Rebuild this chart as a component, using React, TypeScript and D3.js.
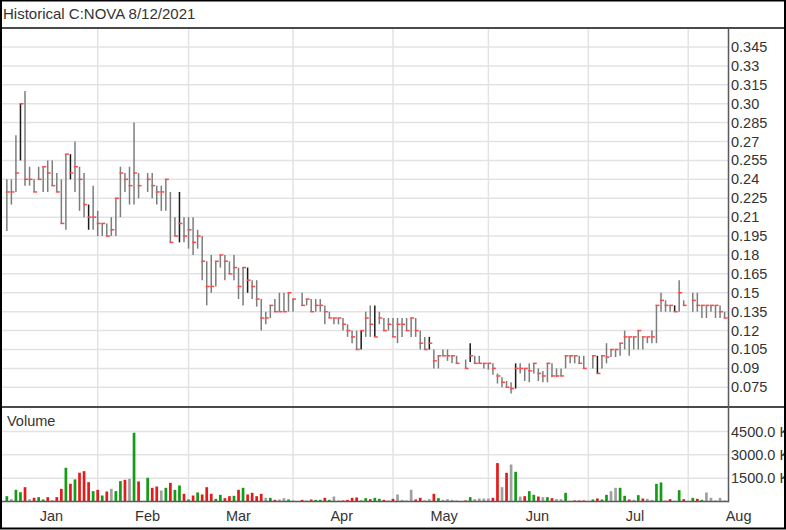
import React, { useEffect, useRef } from 'react';
import * as d3 from 'd3';

const title = 'Historical C:NOVA 8/12/2021';
const firstDay = '2021-01-04';
const lastDay = '2021-08-12';
const holidays = ['2021-02-15', '2021-04-02', '2021-05-24', '2021-07-01', '2021-08-02'];

const monthLabels = ['Jan', 'Feb', 'Mar', 'Apr', 'May', 'Jun', 'Jul', 'Aug'];
const monthLabelDays = ['2021-01-15', '2021-02-15', '2021-03-15', '2021-04-15', '2021-05-17', '2021-06-15', '2021-07-15', '2021-08-16'];
const monthStarts = ['2021-02-01', '2021-03-01', '2021-04-01', '2021-05-03', '2021-06-01', '2021-07-01', '2021-08-02'];

const priceTicks = ['0.075', '0.09', '0.105', '0.12', '0.135', '0.15', '0.165', '0.18', '0.195', '0.21', '0.225', '0.24', '0.255', '0.27', '0.285', '0.30', '0.315', '0.33', '0.345'];
const volumeTicks = [1500, 3000, 4500];

// one entry per trading day, grouped by month
const high = [
  0.240, 0.240, 0.275, 0.300, 0.310, 0.250, 0.240, 0.250, 0.250, 0.255, 0.255, 0.245, 0.240, 0.260, 0.260, 0.270, 0.250, 0.245, 0.220, 0.235,
  0.215, 0.205, 0.205, 0.210, 0.225, 0.250, 0.245, 0.250, 0.285, 0.245, 0.245, 0.245, 0.235, 0.235, 0.240, 0.230, 0.210, 0.230, 0.210,
  0.210, 0.210, 0.200, 0.195, 0.175, 0.180, 0.175, 0.180, 0.180, 0.175, 0.180, 0.170, 0.170, 0.170, 0.160, 0.160, 0.145, 0.135, 0.140, 0.145, 0.150, 0.150, 0.150,
  0.145, 0.150, 0.145, 0.145, 0.145, 0.145, 0.140, 0.135, 0.130, 0.130, 0.130, 0.125, 0.120, 0.120, 0.120, 0.135, 0.140, 0.140, 0.135, 0.130, 0.130,
  0.130, 0.130, 0.130, 0.130, 0.130, 0.130, 0.120, 0.115, 0.115, 0.105, 0.100, 0.105, 0.105, 0.100, 0.100, 0.097, 0.110, 0.100, 0.100, 0.094,
  0.094, 0.094, 0.086, 0.083, 0.080, 0.079, 0.094, 0.094, 0.090, 0.094, 0.094, 0.090, 0.088, 0.094, 0.094, 0.090, 0.090, 0.100, 0.100, 0.100, 0.100, 0.100,
  0.100, 0.100, 0.100, 0.110, 0.105, 0.105, 0.110, 0.120, 0.115, 0.115, 0.120, 0.115, 0.115, 0.120, 0.140, 0.150, 0.144, 0.140, 0.140, 0.160, 0.144,
  0.150, 0.150, 0.140, 0.140, 0.140, 0.140, 0.140, 0.135,
];
const low = [
  0.199, 0.220, 0.230, 0.255, 0.235, 0.235, 0.230, 0.240, 0.230, 0.230, 0.235, 0.230, 0.205, 0.200, 0.240, 0.230, 0.215, 0.210, 0.200, 0.200,
  0.195, 0.195, 0.195, 0.195, 0.195, 0.210, 0.230, 0.220, 0.220, 0.225, 0.230, 0.225, 0.220, 0.215, 0.215, 0.190, 0.195, 0.190, 0.190,
  0.185, 0.180, 0.185, 0.160, 0.140, 0.150, 0.155, 0.170, 0.160, 0.165, 0.160, 0.145, 0.140, 0.150, 0.145, 0.139, 0.120, 0.125, 0.130, 0.135, 0.135, 0.135, 0.135,
  0.135, 0.140, 0.140, 0.135, 0.135, 0.135, 0.125, 0.130, 0.125, 0.125, 0.120, 0.115, 0.110, 0.105, 0.105, 0.115, 0.115, 0.115, 0.125, 0.120, 0.120,
  0.115, 0.110, 0.115, 0.120, 0.115, 0.115, 0.105, 0.105, 0.105, 0.090, 0.090, 0.100, 0.096, 0.094, 0.094, 0.090, 0.095, 0.094, 0.094, 0.090,
  0.089, 0.085, 0.078, 0.075, 0.075, 0.070, 0.074, 0.086, 0.080, 0.079, 0.086, 0.080, 0.079, 0.079, 0.083, 0.083, 0.084, 0.090, 0.094, 0.094, 0.094, 0.090,
  0.090, 0.086, 0.090, 0.094, 0.099, 0.099, 0.100, 0.105, 0.100, 0.105, 0.105, 0.105, 0.110, 0.110, 0.110, 0.135, 0.135, 0.135, 0.135, 0.135, 0.140,
  0.135, 0.135, 0.130, 0.130, 0.135, 0.130, 0.130, 0.130,
];
const close = [
  0.230, 0.230, 0.245, 0.300, 0.240, 0.240, 0.230, 0.240, 0.250, 0.245, 0.235, 0.230, 0.205, 0.260, 0.245, 0.250, 0.240, 0.220, 0.210, 0.210,
  0.205, 0.205, 0.195, 0.200, 0.225, 0.245, 0.240, 0.235, 0.245, 0.235, 0.240, 0.235, 0.230, 0.230, 0.240, 0.190, 0.195, 0.205, 0.195,
  0.200, 0.190, 0.195, 0.175, 0.155, 0.155, 0.175, 0.180, 0.175, 0.165, 0.170, 0.155, 0.170, 0.160, 0.155, 0.145, 0.130, 0.130, 0.140, 0.135, 0.135, 0.135, 0.150,
  0.145, 0.140, 0.145, 0.135, 0.140, 0.140, 0.135, 0.130, 0.130, 0.130, 0.125, 0.120, 0.115, 0.105, 0.120, 0.130, 0.125, 0.115, 0.130, 0.120, 0.125,
  0.115, 0.125, 0.125, 0.120, 0.130, 0.120, 0.110, 0.105, 0.110, 0.096, 0.100, 0.100, 0.100, 0.100, 0.094, 0.090, 0.100, 0.094, 0.094, 0.094,
  0.094, 0.090, 0.084, 0.079, 0.075, 0.074, 0.090, 0.090, 0.090, 0.088, 0.094, 0.086, 0.084, 0.094, 0.084, 0.084, 0.084, 0.100, 0.100, 0.100, 0.094, 0.090,
  0.100, 0.086, 0.100, 0.099, 0.105, 0.105, 0.110, 0.115, 0.115, 0.115, 0.120, 0.115, 0.115, 0.115, 0.140, 0.144, 0.140, 0.140, 0.135, 0.150, 0.140,
  0.144, 0.140, 0.140, 0.140, 0.140, 0.140, 0.135, 0.130,
];
// volume in thousands of shares
const volume = [
  343, 150, 750, 600, 920, 150, 240, 280, 130, 280, 60, 280, 815, 2170, 1140, 1420, 1850, 1950, 1245, 665,
  750, 385, 645, 815, 665, 1310, 1395, 1460, 4420, 1290, 1525, 880, 965, 710, 880, 1200, 750, 1030, 495,
  130, 385, 580, 450, 920, 495, 170, 430, 215, 343, 365, 750, 880, 450, 560, 343, 494, 235, 235, 107, 130, 215, 130,
  65, 107, 65, 130, 107, 107, 236, 107, 320, 65, 65, 107, 236, 258, 65, 215, 150, 236, 172, 107, 65,
  172, 450, 107, 65, 750, 130, 236, 65, 150, 494, 215, 107, 150, 107, 65, 65, 280, 150, 193, 193,
  193, 236, 2470, 923, 1845, 2380, 1910, 320, 343, 665, 430, 320, 280, 280, 215, 150, 150, 558, 43, 65, 65, 65,
  130, 193, 130, 430, 665, 880, 880, 365, 130, 107, 408, 193, 172, 107, 1137, 1225, 65, 150, 43, 730, 150,
  236, 172, 107, 580, 236, 65, 236, 65,
];
// g = up, r = down, n = unchanged
const volumeDir = [
  'g', 'n', 'g', 'g', 'r', 'n', 'r', 'g', 'g', 'r', 'r', 'r', 'r', 'g', 'r', 'g', 'r', 'r', 'r', 'g',
  'r', 'g', 'r', 'n', 'g', 'g', 'r', 'n', 'g', 'r', 'g', 'r', 'r', 'n', 'g', 'r', 'g', 'g', 'r',
  'g', 'r', 'g', 'r', 'r', 'r', 'g', 'g', 'r', 'r', 'g', 'r', 'g', 'r', 'r', 'r', 'r', 'n', 'g', 'r', 'n', 'n', 'g',
  'n', 'r', 'n', 'r', 'g', 'g', 'r', 'g', 'n', 'n', 'r', 'r', 'r', 'r', 'g', 'g', 'r', 'g', 'g', 'r', 'n',
  'r', 'n', 'n', 'n', 'n', 'r', 'r', 'n', 'n', 'r', 'g', 'n', 'n', 'n', 'n', 'r', 'g', 'n', 'n', 'n',
  'n', 'r', 'r', 'n', 'r', 'n', 'g', 'n', 'r', 'g', 'g', 'r', 'n', 'g', 'r', 'n', 'n', 'g', 'n', 'r', 'r', 'r',
  'g', 'r', 'g', 'g', 'n', 'n', 'g', 'g', 'r', 'n', 'g', 'r', 'n', 'n', 'g', 'g', 'n', 'r', 'n', 'g', 'r',
  'g', 'r', 'g', 'n', 'n', 'n', 'n', 'n',
];
const darkBars = ['2021-01-07', '2021-01-22', '2021-01-28', '2021-02-25', '2021-03-18', '2021-04-22', '2021-04-27', '2021-05-13', '2021-05-26', '2021-06-09', '2021-07-05', '2021-07-28'];

const W = 786;
const H = 530;
const plotLeft = 2;
const plotRight = 728.5;
const priceTop = 29;
const divider = 407;
const volBase = 501.5;
const font = '"Liberation Sans", Arial, sans-serif';
const dirColor: Record<string, string> = { g: '#149c14', r: '#e41b1b', n: '#a0a0a0' };

export default function App() {
  const svgRef = useRef<SVGSVGElement>(null);

  useEffect(() => {
    if (!svgRef.current) return;
    const svg = d3.select(svgRef.current);
    svg.selectAll('*').remove();

    const parse = d3.timeParse('%Y-%m-%d');
    const fmt = d3.timeFormat('%Y-%m-%d');
    const start = parse(firstDay)!;
    const isWeekday = (d: Date) => d.getDay() % 6 !== 0;
    const weekdayIndex = (s: string) => d3.timeDay.range(start, parse(s)!).filter(isWeekday).length;

    const weekdays = d3.timeDay.range(start, d3.timeDay.offset(parse(lastDay)!, 1)).filter(isWeekday).map(fmt);
    const tradingDays = weekdays.filter(s => !holidays.includes(s));
    const dayIdx = new Map(weekdays.map((s, i) => [s, i]));

    const x = d3.scaleLinear().domain([0, weekdays.length - 1]).range([6.84, 724.6]);
    const y = d3.scaleLinear().domain([0.075, 0.345]).range([387.3, 47]);
    const yv = d3.scaleLinear().domain([0, 4500]).range([volBase, 431.5]);

    const bars = tradingDays.map((d, i) => ({
      date: d,
      x: x(dayIdx.get(d)!),
      high: high[i],
      low: low[i],
      close: close[i],
      volume: volume[i],
      dir: volumeDir[i],
    }));

    svg.append('rect').attr('width', W).attr('height', H).attr('fill', '#fff');

    // grid
    const grid = svg.append('g').attr('stroke', '#e3e3e3').attr('stroke-width', 1.5);
    grid.selectAll('line.h')
      .data(priceTicks)
      .join('line')
      .attr('x1', plotLeft).attr('x2', plotRight)
      .attr('y1', d => y(+d)).attr('y2', d => y(+d));
    grid.selectAll('line.vh')
      .data(volumeTicks)
      .join('line')
      .attr('class', 'vh')
      .attr('x1', plotLeft).attr('x2', plotRight)
      .attr('y1', d => yv(d)).attr('y2', d => yv(d));
    grid.selectAll('line.m')
      .data(monthStarts)
      .join('line')
      .attr('class', 'm')
      .attr('x1', d => x(weekdayIndex(d))).attr('x2', d => x(weekdayIndex(d)))
      .attr('y1', priceTop).attr('y2', volBase);

    // OHLC bars
    const dark = new Set(darkBars);
    svg.append('g')
      .selectAll('line')
      .data(bars)
      .join('line')
      .attr('x1', d => d.x).attr('x2', d => d.x)
      .attr('y1', d => y(d.high)).attr('y2', d => y(d.low))
      .attr('stroke', d => (dark.has(d.date) ? '#1a1a1a' : '#7d7d7d'))
      .attr('stroke-width', 1.5);

    svg.append('g')
      .selectAll('line')
      .data(bars)
      .join('line')
      .attr('x1', d => d.x - 1).attr('x2', d => d.x + 3)
      .attr('y1', d => y(d.close)).attr('y2', d => y(d.close))
      .attr('stroke', '#ff4a4a')
      .attr('stroke-width', 1.5);

    // volume bars
    svg.append('g')
      .selectAll('rect')
      .data(bars)
      .join('rect')
      .attr('x', d => d.x - 1.35)
      .attr('width', 2.7)
      .attr('y', d => yv(d.volume))
      .attr('height', d => volBase - yv(d.volume))
      .attr('fill', d => dirColor[d.dir]);

    // frame lines
    const frame = svg.append('g').attr('stroke', '#4a4a4a');
    frame.append('line').attr('x1', 0).attr('x2', W).attr('y1', 28).attr('y2', 28).attr('stroke-width', 2);
    frame.append('line').attr('x1', 0).attr('x2', W).attr('y1', divider).attr('y2', divider).attr('stroke-width', 2);
    frame.append('line').attr('x1', plotRight).attr('x2', plotRight).attr('y1', priceTop).attr('y2', volBase + 0.75).attr('stroke-width', 1.5).attr('stroke', '#5a5a5a');
    frame.append('line').attr('x1', plotLeft).attr('x2', plotRight).attr('y1', volBase).attr('y2', volBase).attr('stroke-width', 1.5).attr('stroke', '#5a5a5a');

    // text
    const txt = svg.append('g').attr('font-family', font).attr('fill', '#333');
    txt.append('text').attr('x', 3).attr('y', 19).attr('font-size', 15).text(title);
    txt.append('text').attr('x', 7).attr('y', 426).attr('font-size', 14.5).text('Volume');

    txt.selectAll('text.p')
      .data(priceTicks)
      .join('text')
      .attr('class', 'p')
      .attr('x', 731).attr('y', d => y(+d) + 5)
      .attr('font-size', 14.5)
      .text(d => d);

    txt.selectAll('text.v')
      .data(volumeTicks)
      .join('text')
      .attr('class', 'v')
      .attr('x', 731).attr('y', d => yv(d) + 5)
      .attr('font-size', 14.5)
      .text(d => `${d.toFixed(1)} K`);

    txt.selectAll('text.mo')
      .data(monthLabels)
      .join('text')
      .attr('class', 'mo')
      .attr('x', (d, i) => x(weekdayIndex(monthLabelDays[i])) - 8)
      .attr('y', 520.5)
      .attr('font-size', 14.5)
      .text(d => d);

    // outer border
    svg.append('rect')
      .attr('x', 1).attr('y', 0.5)
      .attr('width', W - 2).attr('height', H - 2)
      .attr('fill', 'none')
      .attr('stroke', '#000')
      .attr('stroke-width', 2);
  }, []);

  return (
    <svg
      ref={svgRef}
      width={W}
      height={H}
      style={{ position: 'fixed', left: 0, top: 0, display: 'block' }}
    />
  );
}
